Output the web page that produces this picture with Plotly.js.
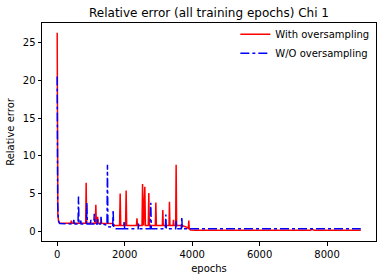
<!DOCTYPE html>
<html>
<head>
<meta charset="utf-8">
<script src="https://cdn.plot.ly/plotly-3.0.1.min.js"></script>
<style>html,body{margin:0;padding:0;background:#fff;}#chart{width:382px;height:278px;}</style>
</head>
<body>
<div id="chart"></div>
<script>
// With oversampling (red) — key points
const withEpochs = [0,3,6,10,20,40,70,
  400,420,440,
  845,859,873,
  1130,1146,1160,1190,1200,1210,1290,1300,1310,
  1650,1700,1850,1867,1884,2028,2044,2060,
  2350,2365,2380,2515,2530,2560,2598,2615,
  2700,2716,2732,2910,2924,2940,3118,3131,3145,
  3315,3328,3342,3435,3447,3460,3512,3526,3540,
  3700,3850,3888,3901,3914,3950,4100,5000,6000,7500,7560,7620,9000];
const withValues = [26.3,15,8,4.5,2.2,1.3,1.05,
  1.03,1.4,1.03,
  1.03,6.4,1.03,
  1.03,3.5,1.03,1.03,1.9,1.03,1.03,1.5,1.03,
  1.0,0.75,0.75,5.0,0.75,0.75,5.4,0.75,
  0.75,1.7,0.75,0.75,6.25,0.75,5.9,0.75,
  0.75,5.07,0.75,0.75,3.8,0.75,0.75,2.8,0.75,
  0.75,3.9,0.75,0.75,1.5,0.75,0.75,8.8,0.75,
  0.75,0.5,0.3,1.4,0.3,0.15,0.1,0.1,0.1,0.1,0.25,0.1,0.1];

// W/O oversampling (blue)
const woEpochs = [0,3,8,15,30,50,80,
  480,494,504,516,530,
  618,632,646,690,700,710,
  866,880,894,980,1000,1020,1085,1100,1115,1190,1200,1210,1285,1300,1315,
  1400,1476,1490,1504,1645,1659,1673,1750,
  1970,1985,2000,2400,2410,2420,2760,2775,2790,
  3205,3220,3235,3512,3526,3540,3680,3694,3708,
  3800,4200,6000,9000];
const woValues = [20.5,12,6,3.5,2,1.2,1.0,
  0.95,1.5,0.95,1.3,0.95,
  0.95,4.6,0.95,0.95,1.4,0.95,
  0.95,3.8,0.95,0.95,1.5,0.95,0.95,2.3,0.95,0.95,1.6,0.95,0.95,1.9,0.95,
  0.9,0.8,8.8,0.6,0.5,2.8,0.4,0.3,
  0.3,1.3,0.3,0.3,1.0,0.3,0.3,3.75,0.3,
  0.3,2.2,0.3,0.3,1.4,0.3,0.3,1.9,0.3,
  0.3,0.3,0.3,0.3];

const xTicks = [0,2000,4000,6000,8000];
const yTicks = [0,5,10,15,20,25];

const traces = [
  {x: withEpochs, y: withValues, type:'scatter', mode:'lines', name:'With oversampling',
   line:{color:'red', width:1.5}},
  {x: woEpochs, y: woValues, type:'scatter', mode:'lines', name:'W/O oversampling',
   line:{color:'blue', width:1.5, dash:'dashdot'}}
];

const font = {family:'DejaVu Sans, sans-serif', size:10, color:'#000'};
const axisCommon = {showline:true, linecolor:'#000', linewidth:1, mirror:true,
  ticks:'outside', ticklen:3.5, tickwidth:1, tickcolor:'#000', showgrid:false, zeroline:false,
  tickfont:{family:'DejaVu Sans, sans-serif', size:10, color:'#000'}};

const layout = {
  width:382, height:278,
  margin:{l:42, r:6, t:23, b:37},
  paper_bgcolor:'#fff', plot_bgcolor:'#fff',
  font: font,
  title:{text:'Relative error (all training epochs) Chi 1', font:{family:'DejaVu Sans, sans-serif', size:12, color:'#000'},
    x:0.5, xref:'paper', y:0.955, yanchor:'middle'},
  xaxis: Object.assign({}, axisCommon, {range:[-450,9450], tickvals:xTicks, ticktext:xTicks.map(String),
    title:{text:'epochs', font:{size:10}, standoff:6}}),
  yaxis: Object.assign({}, axisCommon, {range:[-1.31,27.61], tickvals:yTicks, ticktext:yTicks.map(String),
    title:{text:'Relative error', font:{size:10}, standoff:6}}),
  showlegend:true,
  legend:{x:0.995, xanchor:'right', y:1.015, yanchor:'top', bgcolor:'rgba(0,0,0,0)',
    font:{family:'DejaVu Sans, sans-serif', size:10, color:'#000'}, tracegroupgap:0}
};

Plotly.newPlot('chart', traces, layout, {displayModeBar:false, staticPlot:true});
</script>
</body>
</html>
